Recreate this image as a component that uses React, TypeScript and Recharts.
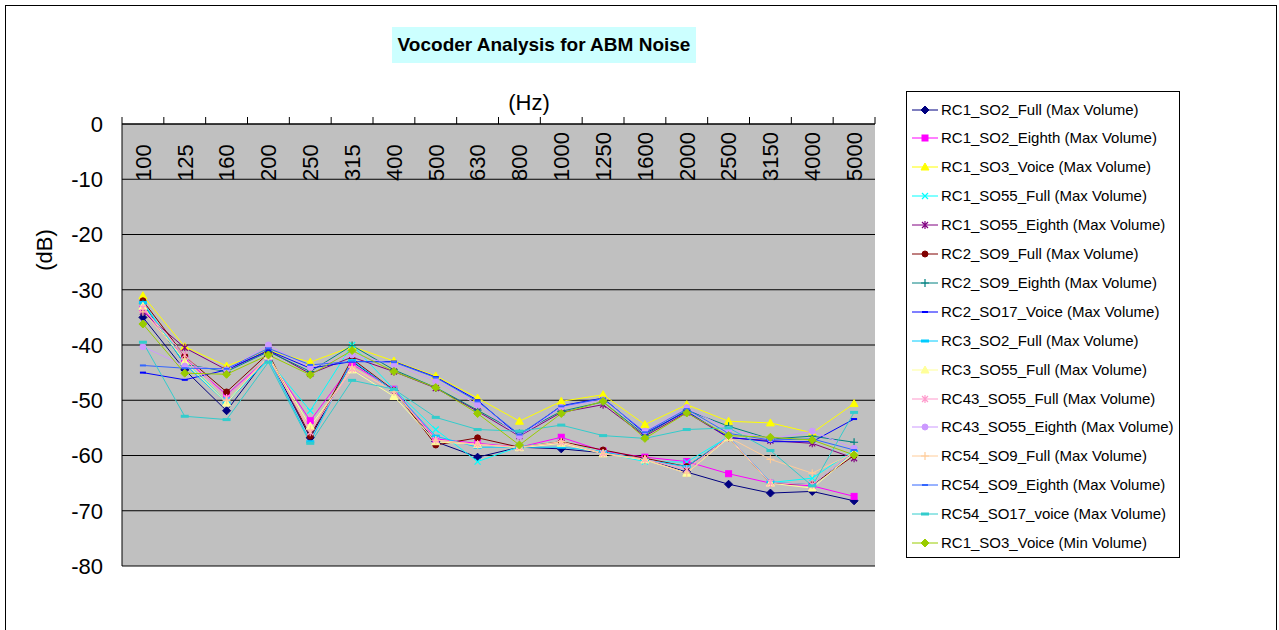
import React from 'react';
import { LineChart, Line, XAxis, YAxis, CartesianGrid, Legend } from 'recharts';

const categories = ["100", "125", "160", "200", "250", "315", "400", "500", "630", "800", "1000", "1250", "1600", "2000", "2500", "3150", "4000", "5000"];
const yTicks = [0, -10, -20, -30, -40, -50, -60, -70, -80];

const rc1_so2_full = [-35, -44.5, -51.9, -42, -56.8, -43, -48.2, -57.5, -60.3, -58.5, -58.8, -59.5, -60.7, -63, -65.2, -66.8, -66.5, -68.2];
const rc1_so2_eighth = [-33.5, -42.5, -49, -42.3, -53.7, -43.5, -48, -57, -57.8, -58.5, -56.7, -59.2, -60.3, -61.1, -63.3, -65, -65.5, -67.4];
const rc1_so3_voice_max = [-31.1, -40.3, -43.8, -41, -43.1, -40.3, -42.9, -45.6, -49.6, -53.8, -50.2, -49, -54.4, -50.8, -53.8, -54.1, -55.9, -50.6];
const rc1_so55_full = [-32.3, -43, -50, -42.8, -51.9, -40, -48, -55.3, -61.1, -58.4, -57.5, -59.5, -61.1, -61.2, -56.6, -64.9, -64.1, -59];
const rc1_so55_eighth = [-34, -40.5, -44.5, -41, -45.2, -42.2, -44.8, -47.8, -52, -56.5, -52.2, -50.8, -56.5, -52.2, -56.8, -57.3, -57.8, -60.5];
const rc2_so9_full = [-32, -42, -48.5, -41.5, -56.5, -42.5, -48.2, -58.1, -56.8, -58.5, -57.5, -59, -60.5, -62, -56.8, -65, -65.3, -60];
const rc2_so9_eighth = [-32.5, -43.5, -44.8, -41.2, -44.8, -40.1, -44.5, -47.7, -51.8, -56, -52, -50.3, -56.3, -51.8, -54.7, -57, -56.5, -57.6];
const rc2_so17_voice = [-45, -46.3, -44.5, -41, -44.2, -43, -43, -45.8, -50, -56.5, -51, -49.6, -56, -52, -56.7, -57.5, -57.5, -53.4];
const rc3_so2_full = [-32.3, -43.5, -50.5, -42.5, -57.5, -42.8, -48.3, -56.5, -58.5, -58.5, -58.5, -59.3, -60.8, -62, -56.6, -64.8, -65.3, -59.3];
const rc3_so55_full = [-33, -43, -50.5, -42, -54.7, -44.5, -49.3, -57.5, -58, -58.6, -57.8, -59.7, -60.8, -63.2, -56.8, -65, -65.9, -59.5];
const rc43_so55_full = [-33.3, -41.8, -49.6, -42.2, -55.8, -44.3, -48.3, -57.2, -58, -58.5, -57.6, -59.6, -60.7, -62.5, -56.6, -64.9, -65.3, -59.2];
const rc43_so55_eighth = [-40.3, -43.8, -44.5, -40, -44.1, -41.8, -43.5, -46.5, -50.8, -56.5, -51.3, -49.9, -55.6, -51.3, -55.3, -57, -55.6, -58.7];
const rc54_so9_full = [-34, -42.5, -50, -42.3, -55.3, -44, -48.5, -57.2, -58, -58.5, -57.5, -59.6, -60.7, -63.2, -56.7, -60.7, -63.2, -59.5];
const rc54_so9_eighth = [-43.7, -44.2, -44.3, -40.6, -43.6, -43, -43.1, -45.9, -50.2, -56.2, -51.1, -49.7, -55.8, -51.6, -56, -57.2, -57, -59];
const rc54_so17_voice = [-39.5, -52.9, -53.5, -43.1, -57.8, -46.4, -48, -53.1, -55.3, -55.6, -54.5, -56.4, -56.9, -55.3, -55, -59.1, -65.5, -52.2];
const rc1_so3_voice_min = [-36.2, -45.1, -45.3, -41.8, -45.4, -41, -44.8, -47.7, -52.4, -58.1, -52.4, -50.2, -56.9, -52.3, -56.4, -56.7, -57.2, -59.9];

const seriesNames = [
  "RC1_SO2_Full (Max Volume)",
  "RC1_SO2_Eighth (Max Volume)",
  "RC1_SO3_Voice (Max Volume)",
  "RC1_SO55_Full (Max Volume)",
  "RC1_SO55_Eighth (Max Volume)",
  "RC2_SO9_Full (Max Volume)",
  "RC2_SO9_Eighth (Max Volume)",
  "RC2_SO17_Voice (Max Volume)",
  "RC3_SO2_Full (Max Volume)",
  "RC3_SO55_Full (Max Volume)",
  "RC43_SO55_Full (Max Volume)",
  "RC43_SO55_Eighth (Max Volume)",
  "RC54_SO9_Full (Max Volume)",
  "RC54_SO9_Eighth (Max Volume)",
  "RC54_SO17_voice (Max Volume)",
  "RC1_SO3_Voice (Min Volume)",
];
const seriesValues = [
  rc1_so2_full, rc1_so2_eighth, rc1_so3_voice_max, rc1_so55_full, rc1_so55_eighth,
  rc2_so9_full, rc2_so9_eighth, rc2_so17_voice, rc3_so2_full, rc3_so55_full,
  rc43_so55_full, rc43_so55_eighth, rc54_so9_full, rc54_so9_eighth, rc54_so17_voice, rc1_so3_voice_min,
];
const seriesColors = [
  "#000080", "#FF00FF", "#FFFF00", "#00FFFF", "#800080", "#800000", "#008080", "#0000FF",
  "#00CCFF", "#FFFF99", "#FF99CC", "#CC99FF", "#FFCC99", "#3366FF", "#33CCCC", "#99CC00",
];
const seriesMarkers = [
  "diamond", "square", "triangle", "x", "star", "circle", "plus", "shortDash",
  "longDash", "triangle", "star", "circle", "plus", "shortDash", "longDash", "diamond",
];

const data = categories.map((hz, i) => {
  const row: any = { hz };
  seriesValues.forEach((vals, k) => { row["s" + k] = vals[i]; });
  return row;
});

const FONT = '"Liberation Sans", Arial, sans-serif';
const W = 1279, H = 630;
const PLOT_LEFT = 122, PLOT_RIGHT = 875, PLOT_TOP = 124, PLOT_BOTTOM = 566;
const BAND = (PLOT_RIGHT - PLOT_LEFT) / categories.length;
const LABEL_Y = 181;

function Marker({ shape, color, cx, cy }: any) {
  if (cx == null || cy == null) return null;
  switch (shape) {
    case "diamond":
      return <polygon points={`${cx},${cy - 4} ${cx + 4},${cy} ${cx},${cy + 4} ${cx - 4},${cy}`} fill={color} stroke={color} strokeWidth={1} />;
    case "square":
      return <rect x={cx - 3} y={cy - 3} width={6} height={6} fill={color} stroke={color} strokeWidth={1} />;
    case "triangle":
      return <polygon points={`${cx},${cy - 4} ${cx + 4},${cy + 3} ${cx - 4},${cy + 3}`} fill={color} stroke={color} strokeWidth={1} />;
    case "x":
      return <path d={`M${cx - 3},${cy - 3}L${cx + 3},${cy + 3}M${cx - 3},${cy + 3}L${cx + 3},${cy - 3}`} stroke={color} strokeWidth={1.2} fill="none" />;
    case "star":
      return <path d={`M${cx - 3},${cy - 3}L${cx + 3},${cy + 3}M${cx - 3},${cy + 3}L${cx + 3},${cy - 3}M${cx},${cy - 4}L${cx},${cy + 4}`} stroke={color} strokeWidth={1.2} fill="none" />;
    case "circle":
      return <circle cx={cx} cy={cy} r={3} fill={color} stroke={color} strokeWidth={1} />;
    case "plus":
      return <path d={`M${cx - 4},${cy}L${cx + 4},${cy}M${cx},${cy - 4}L${cx},${cy + 4}`} stroke={color} strokeWidth={1.2} fill="none" />;
    case "shortDash":
      return <rect x={cx - 3} y={cy - 1} width={6} height={2} fill={color} />;
    case "longDash":
      return <rect x={cx - 4} y={cy - 1.5} width={8} height={3} fill={color} />;
    default:
      return null;
  }
}

const XTick = (props: any) => {
  const { x, payload, index } = props;
  const half = BAND / 2;
  return (
    <g>
      <line x1={x - half} x2={x - half} y1={PLOT_TOP - 7} y2={PLOT_TOP} stroke="#000" strokeWidth={1} />
      {index === categories.length - 1 ? (
        <line x1={x + half} x2={x + half} y1={PLOT_TOP - 7} y2={PLOT_TOP} stroke="#000" strokeWidth={1} />
      ) : null}
      <text
        x={x}
        y={LABEL_Y}
        dy="0.36em"
        transform={`rotate(-90 ${x} ${LABEL_Y})`}
        textAnchor="start"
        fontSize={22}
        fontFamily={FONT}
        fill="#000"
      >
        {payload.value}
      </text>
    </g>
  );
};

const LegendBox = () => (
  <div
    style={{
      position: "relative",
      width: 274,
      height: 467,
      border: "1px solid #000",
      boxSizing: "border-box",
      background: "#fff",
      fontFamily: FONT,
    }}
  >
    {seriesNames.map((name, i) => {
      const cy = 17.5 + i * 28.9;
      return (
        <div key={name} style={{ position: "absolute", left: 0, top: cy - 10, height: 20, width: 274 }}>
          <svg width={30} height={20} style={{ position: "absolute", left: 4, top: 0 }}>
            <line x1={1} x2={27} y1={10} y2={10} stroke={seriesColors[i]} strokeWidth={1} />
            <Marker shape={seriesMarkers[i]} color={seriesColors[i]} cx={14} cy={10} />
          </svg>
          <span
            style={{
              position: "absolute",
              left: 34,
              top: 0,
              lineHeight: "20px",
              fontSize: 15,
              whiteSpace: "nowrap",
              color: "#000",
            }}
          >
            {name}
          </span>
        </div>
      );
    })}
  </div>
);

export default function App() {
  return (
    <div style={{ position: "absolute", left: 0, top: 0, width: W, height: H, background: "#fff", overflow: "hidden", fontFamily: FONT }}>
      <div style={{ position: "absolute", left: 5, top: 5, width: 1272, height: 700, border: "1px solid #000", boxSizing: "border-box" }} />
      <div
        style={{
          position: "absolute",
          left: 392,
          top: 27,
          width: 304,
          height: 36,
          background: "#CCFFFF",
          fontWeight: "bold",
          fontSize: 19,
          lineHeight: "36px",
          textAlign: "center",
          color: "#000",
        }}
      >
        Vocoder Analysis for ABM Noise
      </div>
      <div style={{ position: "absolute", left: 529 - 40, top: 103 - 14, width: 80, height: 28, lineHeight: "28px", textAlign: "center", fontSize: 22, color: "#000", zIndex: 2 }}>
        (Hz)
      </div>
      <div
        style={{
          position: "absolute",
          left: 45 - 40,
          top: 250 - 14,
          width: 80,
          height: 28,
          lineHeight: "28px",
          textAlign: "center",
          fontSize: 22,
          color: "#000",
          transform: "rotate(-90deg)",
          zIndex: 2,
        }}
      >
        (dB)
      </div>
      <div style={{ position: "absolute", left: 0, top: 0 }}>
        <LineChart
          width={W}
          height={H}
          data={data}
          margin={{ top: PLOT_TOP - 20, right: W - PLOT_RIGHT, bottom: H - PLOT_BOTTOM, left: 0 }}
        >
          <CartesianGrid fill="#C0C0C0" stroke="#000" strokeWidth={1} vertical={false} horizontal={true} />
          <XAxis
            dataKey="hz"
            orientation="top"
            scale="band"
            height={20}
            interval={0}
            axisLine={{ stroke: "#000", strokeWidth: 1 }}
            tickLine={false}
            tick={<XTick />}
          />
          <YAxis
            type="number"
            domain={[-80, 0]}
            ticks={yTicks}
            interval={0}
            width={PLOT_LEFT}
            axisLine={{ stroke: "#000", strokeWidth: 1 }}
            tickLine={false}
            tickSize={6}
            tickMargin={13}
            tick={{ fontSize: 22, fill: "#000", fontFamily: FONT }}
          />
          {seriesValues.map((_, k) => (
            <Line
              key={k}
              type="linear"
              dataKey={"s" + k}
              name={seriesNames[k]}
              stroke={seriesColors[k]}
              strokeWidth={1}
              isAnimationActive={false}
              dot={(p: any) => (
                <Marker key={`m-${k}-${p.index}`} shape={seriesMarkers[k]} color={seriesColors[k]} cx={p.cx} cy={p.cy} />
              )}
              activeDot={false}
            />
          ))}
          <Legend
            layout="vertical"
            align="center"
            verticalAlign="middle"
            wrapperStyle={{ left: 906, top: 91, width: 274, height: 467 }}
            content={() => <LegendBox />}
          />
        </LineChart>
      </div>
    </div>
  );
}
